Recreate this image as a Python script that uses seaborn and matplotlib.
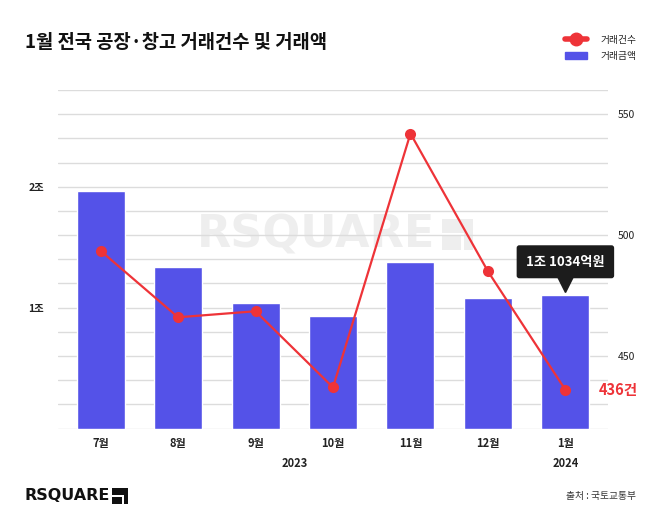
import numpy as np
import pandas as pd
import matplotlib
matplotlib.use("Agg")
import matplotlib.pyplot as plt
import matplotlib.patches as mpatches
import matplotlib.transforms as mtrans
from matplotlib.lines import Line2D
import seaborn as sns

# 데이터
months = ['7월', '8월', '9월', '10월', '11월', '12월', '1월']
amount_eok = [19650, 13350, 10350, 9300, 13740, 10810, 11034]   # 거래금액 (억원)
deal_count = [493.5, 466, 468.5, 437, 542, 485, 436]            # 거래건수 (건)
years = ['2023', '2024']
year_pos = [2.5, 6]

bar_color = '#5452E8'
line_color = '#EE3338'

sns.set_theme(style='white')
plt.rcParams['font.family'] = ['Noto Sans CJK KR', 'DejaVu Sans']

df = pd.DataFrame({'month': months, 'amount': amount_eok, 'count': deal_count})
df['pos'] = np.arange(len(df))

W, H = 670, 531
fig = plt.figure(figsize=(6.7, 5.31), dpi=100)
ax = fig.add_axes([58 / W, 1 - 428.5 / H, 550 / W, 338.5 / H])


def logo_icon(target, x0, y0, size, color, zorder=1):
    # 로고 옆 사각형 아이콘 (픽셀 기준, 위쪽 y0)
    def rect(x, y, w, h, c):
        r = mpatches.Rectangle((x / W, 1 - (y + h) / H), w / W, h / H,
                               transform=fig.transFigure, fc=c, ec='none', zorder=zorder)
        target.add_artist(r)
    rect(x0, y0, size, size, color)
    rect(x0, y0 + size * 0.45, size * 0.68, size * 0.1, 'white')
    rect(x0 + size * 0.62, y0 + size * 0.45, size * 0.1, size * 0.55, 'white')


sns.barplot(data=df, x='month', y='amount', color=bar_color, width=0.62,
            saturation=1, ax=ax, zorder=3)
ax.set_xlim(-0.55, 6.55)
ax.set_ylim(0, 28000)
ax.set_yticks(np.arange(0, 28001, 2000))
ax.set_yticklabels(['%d조' % (v // 10000) if v in (10000, 20000) else '' for v in ax.get_yticks()],
                   fontsize=7.5, fontweight='bold', color='#222222')
ax.grid(axis='y', color='#dcdcdc', linewidth=1)
ax.set_axisbelow(True)
ax.tick_params(axis='y', length=0, pad=10)
ax.tick_params(axis='x', length=0, pad=6)
ax.set_xticks(df['pos'])
ax.set_xticklabels(months, fontsize=8, fontweight='bold', color='#222222')
ax.set_xlabel('')
ax.set_ylabel('')
for s in ax.spines.values():
    s.set_visible(False)

# 워터마크
ax.text(0.47, 0.572, 'RSQUARE', transform=ax.transAxes, ha='center', va='center',
        fontsize=32, fontweight='bold', color='#eeeeee', family='DejaVu Sans', zorder=0.2)
logo_icon(ax, 442, 219, 31, '#eeeeee', zorder=0.2)

ax2 = ax.twinx()
sns.lineplot(x=df['pos'], y=df['count'], color=line_color, linewidth=1.6,
             marker='o', markersize=8, markeredgewidth=0, ax=ax2, zorder=4)
ax2.set_ylim(420, 560)
ax2.set_yticks([450, 500, 550])
ax2.set_yticklabels(['450', '500', '550'], fontsize=7.5, color='#222222')
ax2.tick_params(axis='y', length=0, pad=7)
ax2.set_ylabel('')
ax2.set_xlabel('')
for s in ax2.spines.values():
    s.set_visible(False)

# 연도 라벨
for yr, xp in zip(years, year_pos):
    ax.text(xp, -0.103, yr, transform=ax.get_xaxis_transform(), ha='center', va='center',
            fontsize=8, fontweight='bold', color='#222222')

# 툴팁
last = len(df) - 1
tip = '%d조 %d억원' % (amount_eok[last] // 10000, amount_eok[last] % 10000)
ax.annotate(tip, xy=(last, amount_eok[last]), xytext=(0, 24), textcoords='offset points',
            ha='center', va='center', fontsize=9.5, fontweight='bold', color='white', zorder=6,
            bbox=dict(boxstyle='round,pad=0.72,rounding_size=0.2', fc='#1c1c1c', ec='none'))
ax.plot([last], [amount_eok[last]], marker='v', markersize=11, color='#1c1c1c',
        transform=ax.transData + mtrans.ScaledTranslation(0, 8 / 72, fig.dpi_scale_trans),
        zorder=6, clip_on=False)

ax2.annotate('%d건' % deal_count[last], xy=(last, deal_count[last]), xytext=(24, 0),
             textcoords='offset points', ha='left', va='center', fontsize=10.5,
             fontweight='bold', color=line_color, annotation_clip=False)

# 제목, 범례
fig.text(25 / W, 1 - 42 / H, '1월 전국 공장·창고 거래건수 및 거래액', fontsize=13.5,
         fontweight='bold', color='#111111', va='center', ha='left')
handles = [Line2D([0], [0], color=line_color, lw=4, marker='o', markersize=9),
           mpatches.Patch(color=bar_color)]
fig.legend(handles, ['거래건수', '거래금액'], loc='upper right', frameon=False,
           bbox_to_anchor=(645 / W, 1 - 26 / H), fontsize=7, handlelength=2.2,
           handletextpad=1.4, labelspacing=0.6)

# 하단 로고, 출처
fig.text(25 / W, 1 - 496 / H, 'RSQUARE', fontsize=11.5, fontweight='bold',
         family='DejaVu Sans', color='#111111', va='center', ha='left')
logo_icon(fig, 112, 488, 16, '#111111')
fig.text(636 / W, 1 - 496 / H, '출처 : 국토교통부', fontsize=7, color='#333333',
         va='center', ha='right')

fig.savefig('out.png', dpi=100, facecolor='white')
